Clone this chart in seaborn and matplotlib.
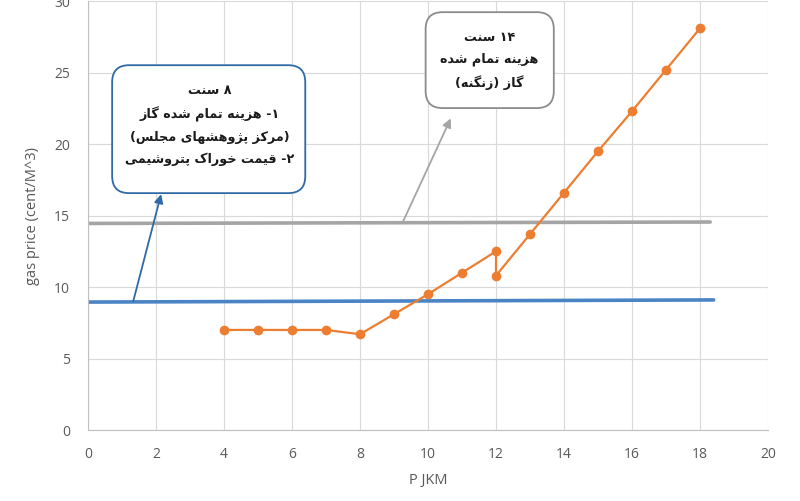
import re
import matplotlib
matplotlib.use("Agg")
import matplotlib.pyplot as plt
from matplotlib.patches import FancyBboxPatch
import seaborn as sns

# data
jkm = [4, 5, 6, 7, 8, 9, 10, 11, 12, 12, 13, 14, 15, 16, 17, 18]
gas_price = [7.0, 7.0, 7.0, 7.0, 6.7, 8.1, 9.5, 11.0, 12.5, 10.8, 13.7, 16.6, 19.5, 22.3, 25.2, 28.1]
majlis_x = [0, 18.4]
majlis_y = [8.95, 9.1]
zanganeh_x = [0, 18.3]
zanganeh_y = [14.45, 14.55]
x_ticks = list(range(0, 21, 2))
y_ticks = list(range(0, 31, 5))

box1_lines = ["۸ سنت", "۱- هزینه تمام شده گاز", "(مرکز پژوهشهای مجلس)", "۲- قیمت خوراک پتروشیمی"]
box2_lines = ["۱۴ سنت", "هزینه تمام شده", "گاز (زنگنه)"]

# small arabic shaper: (isolated, final, initial, medial)
FORMS = {
    'ا': ('\uFE8D', '\uFE8E', None, None),
    'ت': ('\uFE95', '\uFE96', '\uFE97', '\uFE98'),
    'ج': ('\uFE9D', '\uFE9E', '\uFE9F', '\uFEA0'),
    'خ': ('\uFEA5', '\uFEA6', '\uFEA7', '\uFEA8'),
    'د': ('\uFEA9', '\uFEAA', None, None),
    'ر': ('\uFEAD', '\uFEAE', None, None),
    'ز': ('\uFEAF', '\uFEB0', None, None),
    'س': ('\uFEB1', '\uFEB2', '\uFEB3', '\uFEB4'),
    'ش': ('\uFEB5', '\uFEB6', '\uFEB7', '\uFEB8'),
    'ق': ('\uFED5', '\uFED6', '\uFED7', '\uFED8'),
    'ل': ('\uFEDD', '\uFEDE', '\uFEDF', '\uFEE0'),
    'م': ('\uFEE1', '\uFEE2', '\uFEE3', '\uFEE4'),
    'ن': ('\uFEE5', '\uFEE6', '\uFEE7', '\uFEE8'),
    'ه': ('\uFEE9', '\uFEEA', '\uFEEB', '\uFEEC'),
    'و': ('\uFEED', '\uFEEE', None, None),
    'پ': ('\uFB56', '\uFB57', '\uFB58', '\uFB59'),
    'ژ': ('\uFB8A', '\uFB8B', None, None),
    'ک': ('\uFB8E', '\uFB8F', '\uFB90', '\uFB91'),
    'گ': ('\uFB92', '\uFB93', '\uFB94', '\uFB95'),
    'ی': ('\uFBFC', '\uFBFD', '\uFBFE', '\uFBFF'),
}


def shape(s):
    out = []
    for i, ch in enumerate(s):
        if ch not in FORMS:
            out.append(ch)
            continue
        f = FORMS[ch]
        prev = s[i - 1] if i > 0 else ''
        nxt = s[i + 1] if i + 1 < len(s) else ''
        jp = prev in FORMS and FORMS[prev][2] is not None
        jn = f[2] is not None and nxt in FORMS
        if jp and jn:
            out.append(f[3])
        elif jp:
            out.append(f[1])
        elif jn:
            out.append(f[2])
        else:
            out.append(f[0])
    return ''.join(out)


def rtl(s):
    tokens = re.findall(r'[0-9\u06F0-\u06F9]+|.', shape(s))
    mirror = {'(': ')', ')': '('}
    return ''.join(mirror.get(t, t) for t in reversed(tokens))


sns.set_style("whitegrid", {"grid.color": "#d9d9d9", "axes.edgecolor": "#bfbfbf"})
plt.rcParams['font.family'] = ['Open Sans', 'DejaVu Sans']

fig = plt.figure(figsize=(8, 5.01), dpi=100)
ax = fig.add_axes([0.11, 0.1417, 0.85, 0.856])

sns.lineplot(x=majlis_x, y=majlis_y, color="#4a84c4", linewidth=2.6, ax=ax, zorder=2)
sns.lineplot(x=zanganeh_x, y=zanganeh_y, color="#a5a5a5", linewidth=2.6, ax=ax, zorder=2)
sns.lineplot(x=jkm, y=gas_price, sort=False, estimator=None, color="#ed7d31", linewidth=1.6,
             marker="o", markersize=7, markeredgewidth=0, ax=ax, zorder=3)

ax.set_xlim(0, 20)
ax.set_ylim(0, 30)
ax.set_xticks(x_ticks)
ax.set_yticks(y_ticks)
ax.tick_params(colors="#595959", labelsize=10, length=0)
ax.tick_params(axis="y", pad=13)
ax.tick_params(axis="x", pad=12)
for s in ["top", "right"]:
    ax.spines[s].set_visible(False)
ax.set_xlabel("P JKM", color="#595959", fontsize=10.5, labelpad=8)
ax.set_ylabel("gas price (cent/M^3)", color="#595959", fontsize=10.5, labelpad=10)

# callout boxes
asp = 33.94 / 14.3
b1 = FancyBboxPatch((0.71, 16.57), 5.68, 8.95, boxstyle="round,pad=0,rounding_size=0.5",
                    mutation_aspect=asp, facecolor="white", edgecolor="#2f6aa6", linewidth=1.3, zorder=5)
b2 = FancyBboxPatch((9.93, 22.52), 3.77, 6.71, boxstyle="round,pad=0,rounding_size=0.5",
                    mutation_aspect=asp, facecolor="white", edgecolor="#8c8c8c", linewidth=1.3, zorder=5)
ax.add_patch(b1)
ax.add_patch(b2)
ax.text(3.58, 21.35, "\n".join(rtl(t) for t in box1_lines), ha="center", va="center",
        family="DejaVu Sans", fontsize=9.2, fontweight="bold", linespacing=1.85, color="#1a1a1a", zorder=6)
ax.text(11.8, 25.85, "\n".join(rtl(t) for t in box2_lines), ha="center", va="center",
        family="DejaVu Sans", fontsize=9.2, fontweight="bold", linespacing=1.85, color="#1a1a1a", zorder=6)

ax.annotate("", xy=(2.15, 16.5), xytext=(1.33, 9.0),
            arrowprops=dict(arrowstyle="-|>", color="#2f6aa6", lw=1.3, mutation_scale=13,
                            shrinkA=0, shrinkB=0), zorder=4)
ax.annotate("", xy=(10.67, 21.8), xytext=(9.25, 14.5),
            arrowprops=dict(arrowstyle="-|>", color="#a5a5a5", lw=1.3, mutation_scale=13,
                            shrinkA=0, shrinkB=0), zorder=4)

fig.savefig("out.png", dpi=100)
